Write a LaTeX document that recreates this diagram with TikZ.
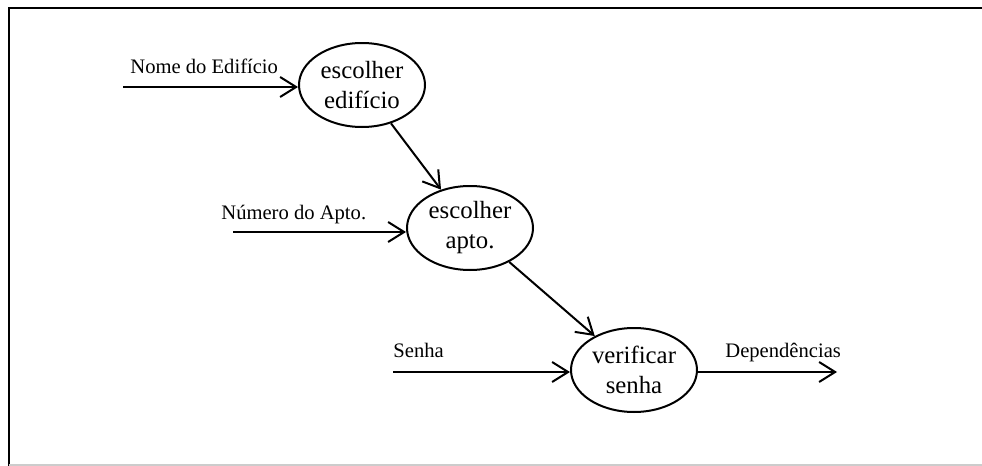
\documentclass[tikz,border=0pt]{standalone}
\usepackage{fontspec}
\setmainfont{Liberation Serif}
\usetikzlibrary{shapes.geometric,arrows.meta}
\begin{document}
\begin{tikzpicture}[x=0.5pt,y=-0.5pt,
    proc/.style={draw,ellipse,line width=1pt,minimum width=63pt,minimum height=42pt,inner sep=0pt,align=center,font=\fontsize{12.4}{15}\selectfont},
    lbl/.style={anchor=base west,inner sep=0pt,font=\fontsize{10.3}{12}\selectfont},
    flow/.style={line width=1pt,-{Straight Barb[length=8pt,width=10pt]}}]
    \useasboundingbox (0,0) rectangle (982,466);
    % frame
    \draw[line width=1pt] (8.5,466) -- (8.5,7.5) -- (982,7.5);
    \draw[black!20,line width=0.6pt] (8.5,465) -- (982,465);

    \node[proc] (p1) at (362,85) {escolher\\edifício};
    \node[proc] (p2) at (470,228) {escolher\\apto.};
    \node[proc] (p3) at (634,370) {verificar\\senha};

    \coordinate (s1) at (123,87);
    \coordinate (s2) at (233,232);
    \coordinate (s3) at (393,372);
    \coordinate (t3) at (837,372);

    \node[lbl] (n1) at (130,73) {Nome do Edifício};
    \node[lbl] (n2) at (221,220) {Número do Apto.};
    \node[lbl] (n3) at (393,357) {Senha};
    \node[lbl] (n4) at (725,357) {Dependências};

    \draw[flow] (s1) -- (s1 -| p1.west);
    \draw[flow] (s2) -- (s2 -| p2.west);
    \draw[flow] (s3) -- (s3 -| p3.west);
    \draw[flow] (p3.east |- t3) -- (t3);

    \draw[flow] (p1) -- (p2);
    \draw[flow] (p2) -- (p3);
\end{tikzpicture}
\end{document}
